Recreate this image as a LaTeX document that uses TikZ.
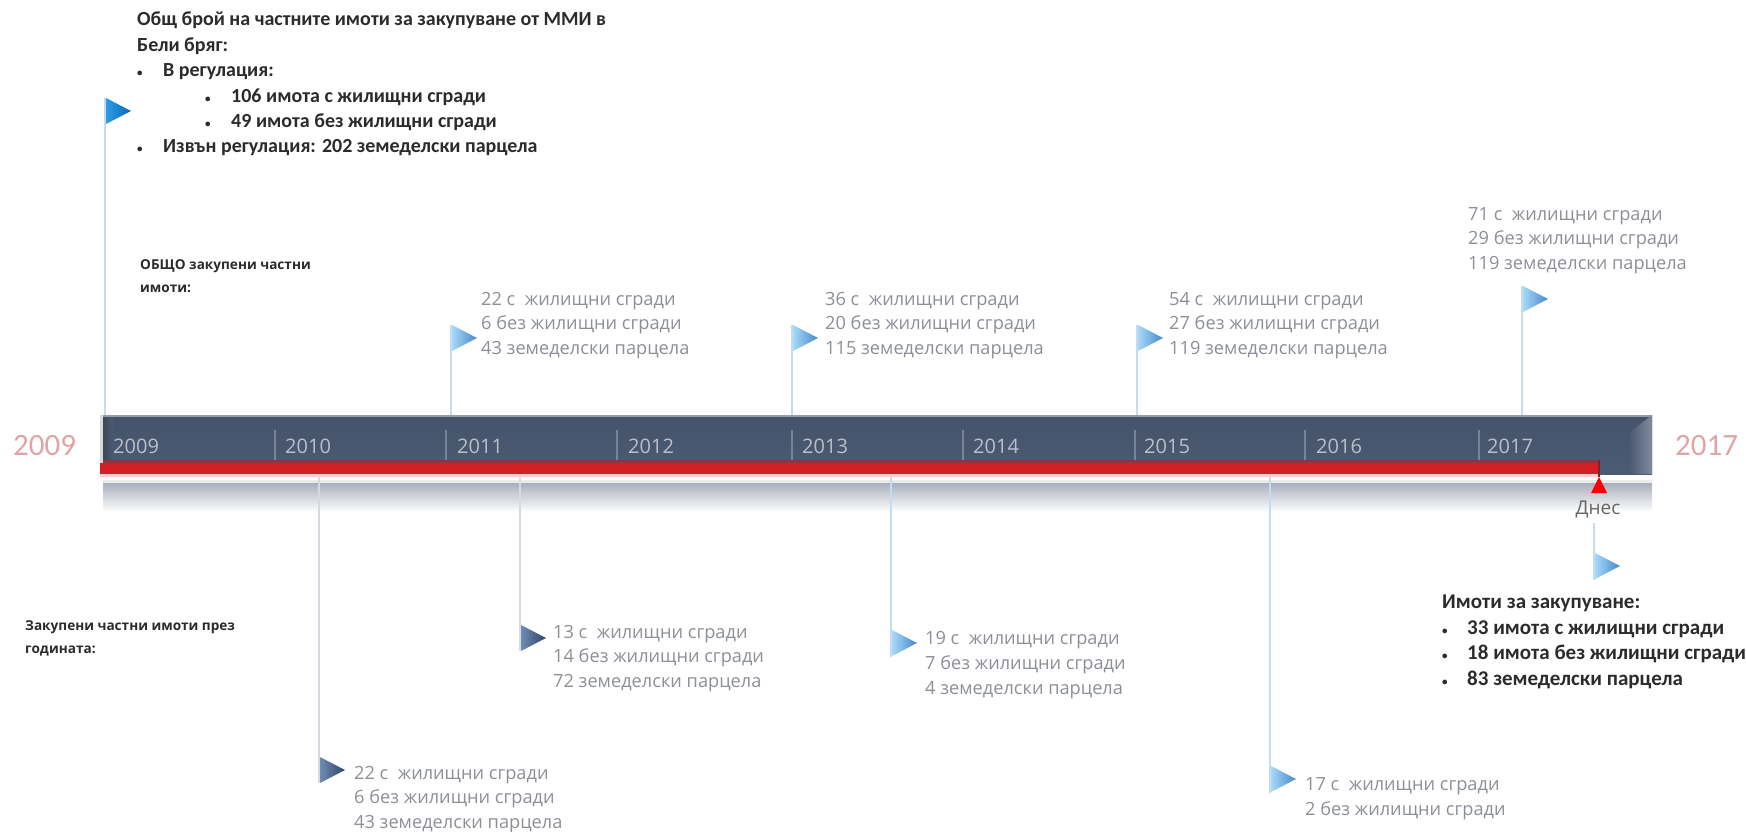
\documentclass[tikz,border=0pt]{standalone}
\usepackage{fontspec}
\setmainfont{Open Sans}
\newfontfamily\carl{Carlito}
\definecolor{barc}{HTML}{4B5B73}
\definecolor{polec}{HTML}{C3DCF0}
\definecolor{poled}{HTML}{D5DAE3}
\definecolor{grayt}{HTML}{8B8F96}
\definecolor{blackt}{HTML}{2B2B2B}
\definecolor{yeart}{HTML}{B9C0CB}
\definecolor{bigy}{HTML}{E0A4A4}
\definecolor{flaglightl}{HTML}{A6D8F8}
\definecolor{flaglightr}{HTML}{4688CC}
\definecolor{flagstrongl}{HTML}{2C9CE4}
\definecolor{flagstrongr}{HTML}{0A68B8}
\definecolor{flagdarkl}{HTML}{6E8CB4}
\definecolor{flagdarkr}{HTML}{2F4565}
\definecolor{redbar}{HTML}{D41F26}
\definecolor{redtop}{HTML}{8E3444}
\definecolor{redend}{HTML}{8A1E28}
\definecolor{pink}{HTML}{FFCBCB}
\definecolor{reflect}{HTML}{A8B0BD}
\tikzset{
  pole/.style={line width=2.6pt,polec},
  poledark/.style={line width=2.6pt,poled},
  grayblock/.style={anchor=north west,inner sep=0pt,align=left,text=grayt,font=\fontsize{18.2}{24.8}\selectfont},
  boldblock/.style={anchor=north west,inner sep=0pt,align=left,text=blackt,font=\carl\bfseries\fontsize{20}{25.4}\selectfont},
  saleblock/.style={boldblock,font=\carl\bfseries\fontsize{21}{25.4}\selectfont},
  smallblock/.style={anchor=north west,inner sep=0pt,align=left,text=blackt,font=\bfseries\fontsize{13.6}{22.5}\selectfont},
  yearlab/.style={anchor=west,inner sep=0pt,text=yeart,font=\fontsize{20}{22}\selectfont},
  bigyear/.style={anchor=west,inner sep=0pt,text=bigy,font=\carl\fontsize{31}{33}\selectfont},
  tick/.style={line width=1.6pt,color=barc!75!white},
  midflag/.style={left color=flaglightl,right color=flaglightr},
  strongflag/.style={left color=flagstrongl,right color=flagstrongr},
  darkflag/.style={left color=flagdarkl,right color=flagdarkr}
}
\newcommand{\flagat}[3]{\path[#3] (#1,#2) -- (#1+25,#2+13) -- (#1,#2+26) -- cycle;}
\newcommand{\bul}[1]{\makebox[#1][l]{\fontsize{11}{11}\selectfont •}}
\begin{document}
\begin{tikzpicture}[x=1pt,y=-1pt]
\useasboundingbox (0,0) rectangle (1746,832);
% timeline bar
\fill[color=black!15] (100,415) rectangle (104,474);
\path[top color=barc!92!black,bottom color=barc] (103,415) rectangle (1652,474);
\fill[color=barc!60!white] (103,415) rectangle (1652,417);
\path[left color=barc,right color=barc!70!white] (1630,432) -- (1652,415) -- (1652,474) -- (1630,474) -- cycle;
\path[left color=barc!80!black,right color=barc] (103,417) rectangle (113,460);
% reflection
\path[top color=reflect,bottom color=white] (103,483) rectangle (1652,512);
\fill[color=black!8] (103,480) rectangle (1652,483);
% ticks
\foreach \t in {275,446,617,792,963,1135,1305,1479}{\draw[tick] (\t,430) -- (\t,460);}
% year labels
\foreach \t/\y in {113/2009,285/2010,457/2011,628/2012,802/2013,973/2014,1144/2015,1316/2016,1487/2017}{
  \node[yearlab] (y\y) at (\t,446) {\y};
}
\node[bigyear] (big2009) at (13,446) {2009};
\node[bigyear] (big2017) at (1675,446) {2017};
% red bar
\fill[color=pink] (100,474) rectangle (1600,477);
\fill[color=redtop] (103,460) rectangle (1600,463);
\fill[color=redbar] (100,463) rectangle (1600,474);
\fill[color=redend] (1598,460) rectangle (1600,477);
% poles
\coordinate (t1) at (105,98);  \coordinate (b1) at (105,415);
\coordinate (t2) at (451,325); \coordinate (b2) at (451,415);
\coordinate (t3) at (792,325); \coordinate (b3) at (792,415);
\coordinate (t4) at (1137,325);\coordinate (b4) at (1137,415);
\coordinate (t5) at (1522,286);\coordinate (b5) at (1522,415);
\coordinate (t6) at (319,477); \coordinate (b6) at (319,783);
\coordinate (t7) at (520,477); \coordinate (b7) at (520,651);
\coordinate (t8) at (891,477); \coordinate (b8) at (891,657);
\coordinate (t9) at (1270,477);\coordinate (b9) at (1270,793);
\coordinate (t10) at (1594,523);\coordinate (b10) at (1594,580);
\foreach \i in {1,...,5}{\draw[pole] (t\i) -- (b\i);}
\foreach \i in {6,7}{\draw[poledark] (t\i) -- (b\i);}
\foreach \i in {8,9,10}{\draw[pole] (t\i) -- (b\i);}
% flags
\flagat{106}{98}{strongflag}
\flagat{452}{325}{midflag}
\flagat{793}{325}{midflag}
\flagat{1138}{325}{midflag}
\flagat{1523}{286}{midflag}
\flagat{320}{757}{darkflag}
\flagat{521}{625}{darkflag}
\flagat{892}{630}{midflag}
\flagat{1271}{766}{midflag}
\flagat{1595}{553}{midflag}
% today marker
\fill[red] (1599,477) -- (1607,493) -- (1591,493) -- cycle;
\node[anchor=center,inner sep=0pt,text=black!60,font=\fontsize{19}{22}\selectfont] (today) at (1598,509) {Днес};
% bold blocks
\node[boldblock] (head) at (137,8) {\strut Общ брой на частните имоти за закупуване от ММИ в\\
Бели бряг:\\
\bul{26pt}В регулация:\\
\hspace{68pt}\bul{26pt}106 имота с жилищни сгради\\
\hspace{68pt}\bul{26pt}49 имота без жилищни сгради\\
\bul{26pt}Извън регулация: 202 земеделски парцела};
\node[smallblock] (total) at (140,254) {\strut ОБЩО закупени частни\\имоти:};
\node[smallblock] (bought) at (25,615) {\strut Закупени частни имоти през\\годината:};
\node[saleblock] (forsale) at (1442,591) {\strut Имоти за закупуване:\\
\bul{25pt}33 имота с жилищни сгради\\
\bul{25pt}18 имота без жилищни сгради\\
\bul{25pt}83 земеделски парцела};
% gray blocks
\node[grayblock] (a) at (481,287.5) {\strut 22 с\ \ жилищни сгради\\6 без жилищни сгради\\43 земеделски парцела};
\node[grayblock] (b) at (825,287.5) {\strut 36 с\ \ жилищни сгради\\20 без жилищни сгради\\115 земеделски парцела};
\node[grayblock] (c) at (1169,287.5) {\strut 54 с\ \ жилищни сгради\\27 без жилищни сгради\\119 земеделски парцела};
\node[grayblock] (d) at (1468,202.5) {\strut 71 с\ \ жилищни сгради\\29 без жилищни сгради\\119 земеделски парцела};
\node[grayblock] (e) at (354,761.5) {\strut 22 с\ \ жилищни сгради\\6 без жилищни сгради\\43 земеделски парцела};
\node[grayblock] (f) at (553,620.5) {\strut 13 с\ \ жилищни сгради\\14 без жилищни сгради\\72 земеделски парцела};
\node[grayblock] (g) at (925,627) {\strut 19 с\ \ жилищни сгради\\7 без жилищни сгради\\4 земеделски парцела};
\node[grayblock] (h) at (1305,773) {\strut 17 с\ \ жилищни сгради\\2 без жилищни сгради};
\end{tikzpicture}
\end{document}
